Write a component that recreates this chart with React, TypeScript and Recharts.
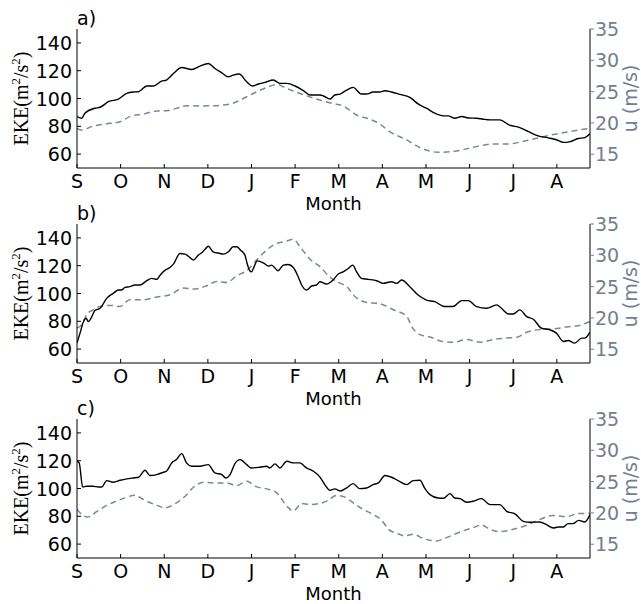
import React from 'react';
import { LineChart, Line, XAxis, YAxis, Label } from 'recharts';

type Pt = [number, number];

const MONTH_LABELS = ['S', 'O', 'N', 'D', 'J', 'F', 'M', 'A', 'M', 'J', 'J', 'A'];
const MONTH_TICKS = [0, 1, 2, 3, 4, 5, 6, 7, 8, 9, 10, 11];
const EKE_TICKS = [60, 80, 100, 120, 140];
const U_TICKS = [15, 20, 25, 30, 35];
const X_DOMAIN: [number, number] = [0, 11.76];
const EKE_DOMAIN: [number, number] = [50, 150];
const U_DOMAIN: [number, number] = [12.8, 35];

// Panel a
const ekeA: Pt[] = [[0,87],[0.11,85.8],[0.18,89.4],[0.41,93],[0.53,93.7],[0.72,97.7],[0.95,99.6],[1.14,103.7],[1.29,104.7],[1.41,104.9],[1.6,109],[1.75,109],[1.94,112.5],[2.05,113.3],[2.21,118],[2.4,122.3],[2.63,120.9],[2.82,123.3],[3.01,125.2],[3.16,121.6],[3.32,118.5],[3.47,115.6],[3.58,116.8],[3.72,117.6],[3.89,112],[4.02,109],[4.16,110.4],[4.31,111.6],[4.5,113.3],[4.65,110.9],[4.81,110.9],[5,109],[5.19,105.6],[5.34,102.5],[5.57,102.5],[5.65,101.8],[5.8,99.6],[5.91,102.5],[6.03,103.2],[6.18,106.1],[6.33,108],[6.52,103.2],[6.64,103.2],[6.79,104.7],[6.94,104.7],[7.06,105.6],[7.21,104.7],[7.4,103],[7.63,100.8],[7.82,96.1],[8.01,93],[8.2,89.4],[8.4,87.5],[8.51,87.5],[8.66,85.8],[8.82,87],[8.97,86],[9.16,85.8],[9.31,85.1],[9.47,84.6],[9.69,84.6],[9.92,80.8],[10.15,79.1],[10.35,76.2],[10.57,73.1],[10.8,71.7],[10.99,70.3],[11.15,68.4],[11.29,68.8],[11.49,71.2],[11.64,71.9],[11.76,74.6]];
const uA: Pt[] = [[0,19.14],[0.11,18.87],[0.37,19.5],[0.76,19.93],[0.99,20.2],[1.21,21.0],[1.52,21.42],[1.83,21.9],[2.05,21.95],[2.28,22.32],[2.51,22.75],[2.82,22.7],[3.12,22.75],[3.51,23.0],[3.74,23.65],[4.04,24.7],[4.35,25.66],[4.58,26.14],[4.81,25.5],[5.11,24.7],[5.57,23.65],[5.87,23.1],[6.1,22.7],[6.41,21.26],[6.72,20.57],[6.94,19.83],[7.17,18.6],[7.56,17.28],[7.86,16.06],[8.28,15.32],[8.62,15.42],[9.08,16.11],[9.54,16.64],[9.85,16.64],[10.31,17.18],[10.76,17.92],[11.07,18.34],[11.5,18.87],[11.76,19.14]];

// Panel b
const ekeB: Pt[] = [[0,64.3],[0.07,71.5],[0.15,79.8],[0.21,82.2],[0.26,79.8],[0.34,83.4],[0.41,87.7],[0.53,89.4],[0.68,96.5],[0.83,100.1],[0.95,102.5],[1.02,102.5],[1.1,104.4],[1.21,104.9],[1.33,106.1],[1.44,106.1],[1.6,109.2],[1.71,110.9],[1.83,110.2],[1.9,113],[2.02,116.8],[2.13,118.7],[2.21,121.1],[2.36,128.8],[2.48,128.3],[2.55,126.9],[2.67,124],[2.78,127.6],[2.86,129.3],[2.93,131.6],[3.01,134],[3.12,130],[3.28,128.8],[3.35,128.3],[3.47,130],[3.58,133.6],[3.66,133.6],[3.75,131.2],[3.85,127.6],[3.9,121.6],[3.96,116.4],[4.0,115.6],[4.06,119.2],[4.13,123.5],[4.27,122.1],[4.39,119.7],[4.46,120.4],[4.61,116.4],[4.73,120.4],[4.84,120.9],[4.96,118.7],[5.07,112.1],[5.15,106.1],[5.26,102.5],[5.38,105.4],[5.49,106.1],[5.57,108.5],[5.72,106.8],[5.87,109.7],[5.99,114],[6.1,115.6],[6.22,118],[6.32,120.4],[6.41,115.6],[6.52,110.9],[6.68,110.2],[6.87,109.2],[7.02,107.3],[7.21,108.5],[7.33,107.3],[7.44,109.7],[7.63,104.9],[7.82,98.9],[8.01,95.3],[8.2,94.1],[8.43,90.6],[8.62,90.6],[8.82,94.9],[8.97,94.9],[9.16,90.6],[9.39,89.4],[9.62,91.8],[9.73,89.4],[9.89,85.3],[10.0,85.3],[10.15,88.2],[10.31,83.4],[10.46,81.5],[10.65,75],[10.84,73.9],[10.99,71.5],[11.15,65.5],[11.26,66.2],[11.41,64.3],[11.57,67.9],[11.64,67.9],[11.76,72.2]];
const uB: Pt[] = [[0,18.4],[0.11,18.93],[0.22,20.5],[0.37,21.3],[0.53,21.84],[0.76,22.0],[0.99,21.84],[1.21,22.9],[1.52,22.9],[1.83,23.33],[2.13,23.7],[2.44,24.76],[2.67,24.6],[2.97,25.13],[3.2,25.82],[3.43,25.66],[3.66,26.72],[3.89,27.57],[4.12,29.27],[4.35,30.86],[4.58,31.92],[4.77,32.19],[4.96,32.56],[5.11,31.39],[5.34,29.38],[5.57,28.2],[5.8,26.5],[6.03,25.56],[6.18,25.03],[6.37,23.43],[6.64,22.48],[6.94,22.27],[7.25,21.31],[7.56,20.25],[7.67,18.66],[7.86,17.33],[8.09,16.96],[8.36,16.27],[8.62,16.11],[8.93,16.54],[9.24,16.11],[9.54,16.54],[9.85,16.8],[10.08,16.91],[10.31,17.7],[10.61,18.13],[10.92,18.24],[11.22,18.55],[11.5,18.77],[11.76,19.46]];

// Panel c
const ekeC: Pt[] = [[0,119.6],[0.05,118.4],[0.13,101.1],[0.22,101.6],[0.37,101.6],[0.49,101.1],[0.57,101.1],[0.68,105.7],[0.83,104.5],[0.99,105.9],[1.14,106.9],[1.29,107.6],[1.41,108.1],[1.56,113.1],[1.67,109.3],[1.83,110],[1.98,111.7],[2.05,112.4],[2.17,118.4],[2.28,120.8],[2.4,125.1],[2.51,118.4],[2.63,116],[2.82,116],[3.01,117.2],[3.16,111.2],[3.32,110],[3.41,107.6],[3.51,110],[3.62,117.9],[3.74,120.8],[3.89,117.2],[4.0,114.8],[4.19,115.3],[4.35,116],[4.42,114.8],[4.54,117.7],[4.65,114.8],[4.81,119.6],[4.96,118.4],[5.11,118.4],[5.26,114.8],[5.42,112.4],[5.57,108.2],[5.68,102.8],[5.8,98.7],[5.91,99.7],[6.03,98.2],[6.18,100.4],[6.33,103.5],[6.48,99.9],[6.64,100.4],[6.79,102.8],[6.91,104],[7.06,109.3],[7.21,108.1],[7.36,105.7],[7.56,102.8],[7.71,105.7],[7.86,105.9],[7.98,99.7],[8.09,95.6],[8.28,93.2],[8.4,93],[8.55,96.3],[8.66,93.2],[8.78,92.7],[8.93,90.1],[9.08,90.8],[9.27,92.7],[9.47,88.4],[9.69,88.4],[9.85,83.6],[10.04,81.7],[10.23,76.4],[10.38,75.7],[10.61,75.9],[10.76,74],[10.92,71.6],[11.03,72.3],[11.15,72.3],[11.26,74.7],[11.37,74.7],[11.5,77.1],[11.64,75.9],[11.76,81.2]];
const uC: Pt[] = [[0,20.56],[0.11,19.76],[0.24,19.34],[0.45,20.19],[0.68,21.2],[0.91,21.88],[1.14,22.52],[1.33,22.83],[1.52,22.15],[1.83,21.2],[2.02,20.82],[2.28,21.62],[2.48,22.67],[2.67,24.1],[2.9,24.9],[3.12,24.79],[3.43,24.79],[3.66,24.37],[3.89,25.05],[4.12,24.16],[4.35,23.84],[4.58,23.2],[4.81,21.09],[4.96,20.3],[5.15,21.51],[5.34,21.35],[5.57,21.51],[5.72,21.88],[5.95,22.78],[6.14,22.52],[6.33,21.62],[6.56,20.56],[6.79,19.76],[6.98,18.87],[7.14,17.38],[7.33,16.75],[7.52,16.33],[7.71,16.59],[7.94,15.9],[8.24,15.53],[8.47,16.06],[8.78,16.96],[9.08,17.65],[9.27,18.07],[9.47,17.38],[9.69,17.01],[10.0,17.38],[10.31,18.02],[10.61,18.97],[10.92,19.6],[11.22,19.39],[11.5,19.92],[11.76,19.92]];

const SANS = "'DejaVu Sans', sans-serif";
const SERIF = "'Liberation Serif', 'DejaVu Serif', serif";
const GRAY = '#708090';
const DASH_COLOR = '#7a8899';
const FS = 19;

const toRows = (pts: Pt[], key: string) => pts.map(([m, v]) => ({ m, [key]: v }));

const BottomTick = (p: any) => {
  const { x, y, payload } = p;
  return (
    <g>
      <line x1={x} x2={x} y1={y} y2={y - 4} stroke="#000" strokeWidth={1} />
      <text x={x} y={y + 20} textAnchor="middle" fontSize={FS} fontFamily={SANS} fill="#000">
        {MONTH_LABELS[payload.value]}
      </text>
    </g>
  );
};

const TopTick = (p: any) => {
  const { x, y } = p;
  return <line x1={x} x2={x} y1={y} y2={y + 4} stroke="#000" strokeWidth={1} />;
};

const LeftTick = (p: any) => {
  const { x, y, payload } = p;
  return (
    <g>
      <line x1={x} x2={x + 4} y1={y} y2={y} stroke="#000" strokeWidth={1} />
      <text x={x - 5} y={y} dy={7} textAnchor="end" fontSize={FS} fontFamily={SANS} fill="#000">
        {payload.value}
      </text>
    </g>
  );
};

const RightTick = (p: any) => {
  const { x, y, payload } = p;
  return (
    <g>
      <line x1={x} x2={x + 4} y1={y} y2={y} stroke={GRAY} strokeWidth={1} />
      <text x={x + 5} y={y} dy={7} textAnchor="start" fontSize={FS} fontFamily={SANS} fill={GRAY}>
        {payload.value}
      </text>
    </g>
  );
};

const Panel = ({ tag, eke, u, top, height }: { tag: string; eke: Pt[]; u: Pt[]; top: number; height: number }) => {
  const xh = height - 29 - 139;
  return (
    <div style={{ position: 'absolute', left: 0, top, width: 641, height }}>
      <LineChart width={641} height={height} margin={{ top: 29, right: 0, bottom: 0, left: 0 }}>
        <XAxis
          xAxisId="b"
          type="number"
          dataKey="m"
          domain={X_DOMAIN}
          ticks={MONTH_TICKS}
          interval={0}
          allowDataOverflow
          height={xh}
          tickSize={0}
          tickMargin={0}
          tickLine={false}
          stroke="#000"
          tick={(p: any) => <BottomTick {...p} />}
        >
          <Label
            content={(lp: any) => {
              const vb = lp.viewBox;
              return (
                <text x={vb.x + vb.width / 2} y={vb.y + 42} textAnchor="middle" fontSize={18} fontFamily={SANS} fill="#000">
                  Month
                </text>
              );
            }}
          />
        </XAxis>
        <XAxis
          xAxisId="t"
          orientation="top"
          type="number"
          dataKey="m"
          domain={X_DOMAIN}
          ticks={MONTH_TICKS}
          interval={0}
          allowDataOverflow
          height={0}
          tickSize={0}
          tickMargin={0}
          tickLine={false}
          stroke="#000"
          tick={(p: any) => <TopTick {...p} />}
        />
        <YAxis
          yAxisId="l"
          type="number"
          domain={EKE_DOMAIN}
          ticks={EKE_TICKS}
          interval={0}
          allowDataOverflow
          width={77}
          tickSize={0}
          tickMargin={0}
          tickLine={false}
          stroke="#000"
          tick={(p: any) => <LeftTick {...p} />}
        >
          <Label
            content={(lp: any) => {
              const vb = lp.viewBox;
              const cx = 28;
              const cy = vb.y + vb.height / 2;
              return (
                <g>
                  <text x={vb.x + vb.width} y={vb.y - 4} textAnchor="start" fontSize={FS} fontFamily={SANS} fill="#000">
                    {tag}
                  </text>
                  <text
                    x={cx}
                    y={cy}
                    transform={`rotate(-90 ${cx} ${cy})`}
                    textAnchor="middle"
                    fontSize={20}
                    fontFamily={SERIF}
                    fill="#000"
                  >
                    EKE(m<tspan dy={-8} fontSize={13}>2</tspan>
                    <tspan dy={8}>/s</tspan>
                    <tspan dy={-8} fontSize={13}>2</tspan>
                    <tspan dy={8}>)</tspan>
                  </text>
                </g>
              );
            }}
          />
        </YAxis>
        <YAxis
          yAxisId="r"
          orientation="right"
          type="number"
          domain={U_DOMAIN}
          ticks={U_TICKS}
          interval={0}
          allowDataOverflow
          width={51}
          tickSize={0}
          tickMargin={0}
          tickLine={false}
          stroke="#000"
          tick={(p: any) => <RightTick {...p} />}
        >
          <Label
            content={(lp: any) => {
              const vb = lp.viewBox;
              const cx = 637;
              const cy = vb.y + vb.height / 2;
              return (
                <text
                  x={cx}
                  y={cy}
                  transform={`rotate(-90 ${cx} ${cy})`}
                  textAnchor="middle"
                  fontSize={FS}
                  fontFamily={SANS}
                  fill={GRAY}
                >
                  u (m/s)
                </text>
              );
            }}
          />
        </YAxis>
        <Line
          xAxisId="b"
          yAxisId="r"
          data={toRows(u, 'u')}
          dataKey="u"
          type="monotone"
          stroke={DASH_COLOR}
          strokeWidth={1.5}
          strokeDasharray="6 4"
          dot={false}
          activeDot={false}
          isAnimationActive={false}
        />
        <Line
          xAxisId="b"
          yAxisId="l"
          data={toRows(eke, 'eke')}
          dataKey="eke"
          type="monotone"
          stroke="#000"
          strokeWidth={1.4}
          dot={false}
          activeDot={false}
          isAnimationActive={false}
        />
      </LineChart>
    </div>
  );
};

export default function App() {
  return (
    <div style={{ position: 'absolute', left: 0, top: 0, width: 641, height: 604, background: '#fff', overflow: 'hidden' }}>
      <Panel tag="a)" eke={ekeA} u={uA} top={0} height={215} />
      <Panel tag="b)" eke={ekeB} u={uB} top={195} height={215} />
      <Panel tag="c)" eke={ekeC} u={uC} top={390} height={214} />
    </div>
  );
}
